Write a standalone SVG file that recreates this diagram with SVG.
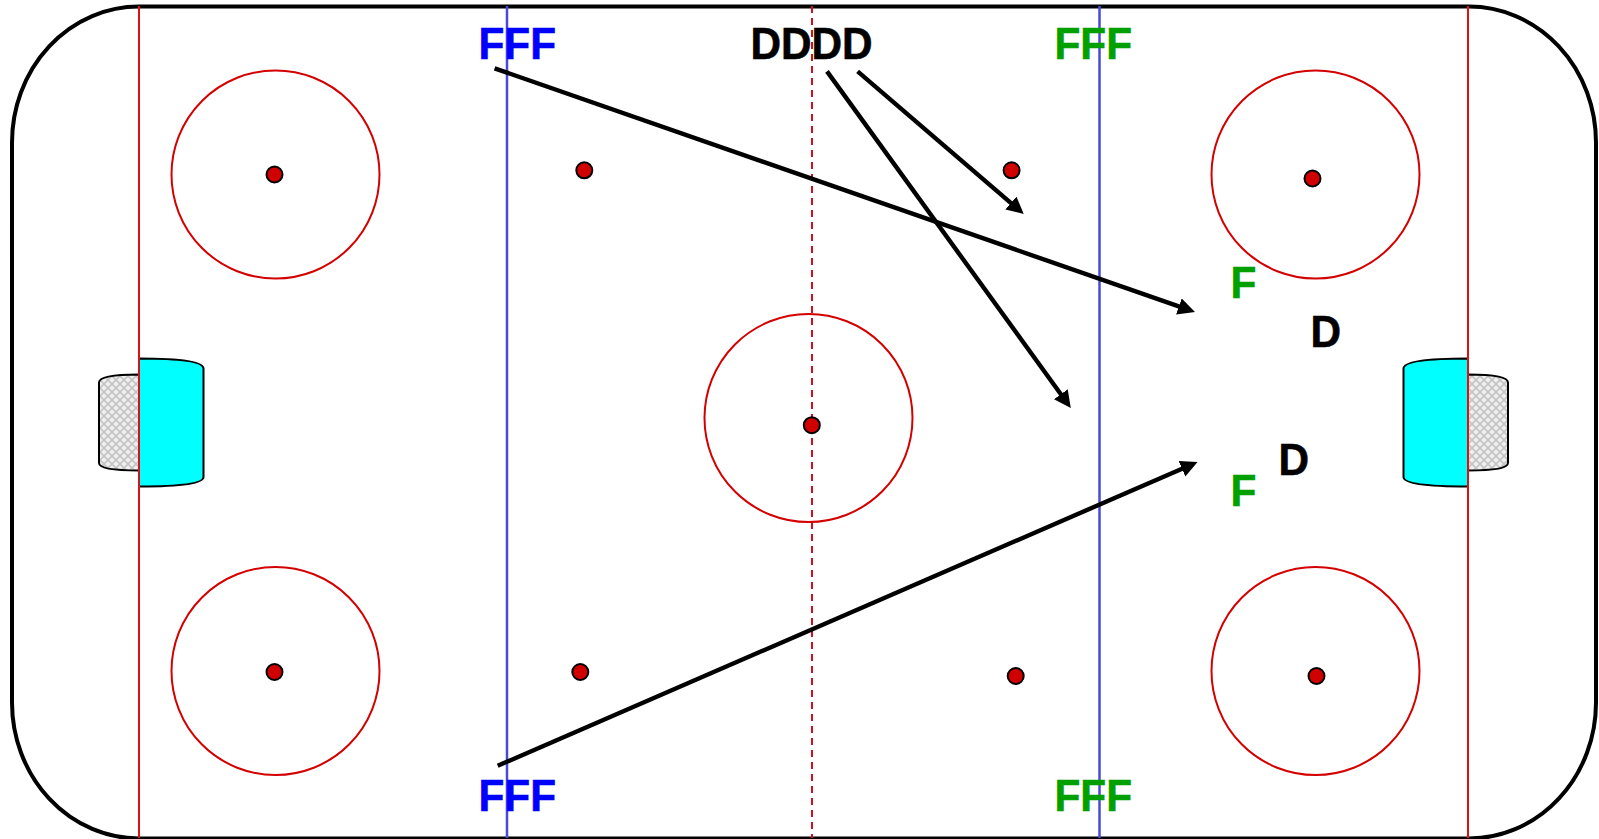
<svg xmlns="http://www.w3.org/2000/svg" width="1599" height="839" viewBox="0 0 1599 839">
<style>
text{font-family:"Liberation Sans",Arial,sans-serif;font-weight:700;font-size:45px;stroke-width:.6}
.circle{fill:none;stroke:#d40000;stroke-width:2}
.dot{fill:#d00000;stroke:#000;stroke-width:2}
.red{stroke:#e01010;stroke-width:2;fill:none}
.blue{stroke:#4a4ad8;stroke-width:2.500;fill:none}
.arrow{stroke:#000;stroke-width:4.400;fill:none;marker-end:url(#head)}
.crease{fill:#00ffff;stroke:#000;stroke-width:2}
.net{fill:url(#mesh);stroke:#000;stroke-width:2}
.blueT{fill:#0000ff;stroke:#0000ff}.greenT{fill:#00a000;stroke:#00a000}.blackT{fill:#000;stroke:#000}
</style>
<defs>
<marker id="head" markerUnits="userSpaceOnUse" markerWidth="19" markerHeight="18" refX="9" refY="8.500" orient="auto"><path d="M0 0L17 8.500L0 17Z" fill="#000"/></marker>
<pattern id="mesh" patternUnits="userSpaceOnUse" width="8" height="8"><rect width="8" height="8" fill="#f0f0f0"/><path d="M0 0L8 8M8 0L0 8" stroke="#c4c4c4" stroke-width="1.600"/></pattern>
</defs>
<g id="rink"><rect x="12" y="6.500" width="1584" height="832" rx="127" ry="136" fill="#fff" stroke="#000" stroke-width="4"/></g>
<g id="net-left"><path class="net" d="M139 374.500Q99 374.500 99 382.500V463Q99 470.500 139 470.500Z"/></g>
<g id="net-right"><path class="net" d="M1468 374.500Q1508 374.500 1508 382.500V463Q1508 470.500 1468 470.500Z"/></g>
<g id="crease-left"><path class="crease" d="M139 358.500Q203.500 358.500 203.500 368.500V477Q203.500 486.500 139 486.500Z"/></g>
<g id="crease-right"><path class="crease" d="M1468 358.500Q1403.500 358.500 1403.500 368.500V477Q1403.500 486.500 1468 486.500Z"/></g>
<g id="lines">
<path class="red" d="M139 6V838M1468 6V838"/>
<path class="blue" d="M507 6V838M1099.500 6V838"/>
<path class="red" stroke-dasharray="7 5" d="M812 6V838" style="stroke:#d01020"/>
</g>
<g id="circle-tl"><circle class="circle" cx="275.500" cy="174.500" r="104"/><circle class="dot" cx="274.500" cy="174.500" r="8"/></g>
<g id="circle-bl"><circle class="circle" cx="275.500" cy="671" r="104"/><circle class="dot" cx="274.500" cy="672" r="8"/></g>
<g id="circle-c"><circle class="circle" cx="808.500" cy="418" r="104"/><circle class="dot" cx="811.800" cy="425.200" r="8"/></g>
<g id="circle-tr"><circle class="circle" cx="1315.500" cy="174.500" r="104"/><circle class="dot" cx="1312.500" cy="178.500" r="8"/></g>
<g id="circle-br"><circle class="circle" cx="1315.500" cy="671" r="104"/><circle class="dot" cx="1316.500" cy="676" r="8"/></g>
<g id="dot-1"><circle class="dot" cx="584.300" cy="170.300" r="8"/></g>
<g id="dot-2"><circle class="dot" cx="1011.600" cy="170.300" r="8"/></g>
<g id="dot-3"><circle class="dot" cx="580.300" cy="672" r="8"/></g>
<g id="dot-4"><circle class="dot" cx="1015.700" cy="676" r="8"/></g>
<g id="connectors">
<path class="arrow" d="M494.600 68.300L1187.400 309.400"/>
<path class="arrow" d="M827 71.400L1066.100 401.500"/>
<path class="arrow" d="M857.600 71.400L1017.700 208.800"/>
<path class="arrow" d="M497.700 765.800L1190.200 465.200"/>
</g>
<g id="label-fff-tl"><text class="blueT" transform="translate(478.500 58.500) scale(.94 1)">FFF</text></g>
<g id="label-dddd"><text class="blackT" transform="translate(750.500 58.500) scale(.94 1)">DDDD</text></g>
<g id="label-fff-tr"><text class="greenT" transform="translate(1054.500 58.500) scale(.94 1)">FFF</text></g>
<g id="label-fff-bl"><text class="blueT" transform="translate(478.500 810.500) scale(.94 1)">FFF</text></g>
<g id="label-fff-br"><text class="greenT" transform="translate(1054.500 810.500) scale(.94 1)">FFF</text></g>
<g id="label-f1"><text class="greenT" transform="translate(1230.500 298) scale(.94 1)">F</text></g>
<g id="label-f2"><text class="greenT" transform="translate(1230.500 506) scale(.94 1)">F</text></g>
<g id="label-d1"><text class="blackT" transform="translate(1310.500 346.500) scale(.94 1)">D</text></g>
<g id="label-d2"><text class="blackT" transform="translate(1278.500 474.500) scale(.94 1)">D</text></g>
</svg>
